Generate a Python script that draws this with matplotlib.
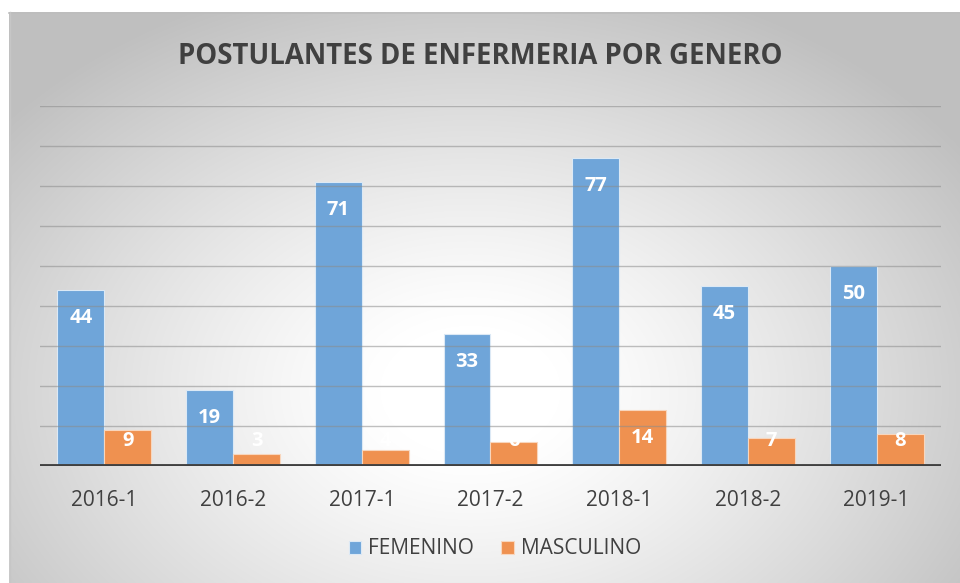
import numpy as np
import matplotlib
matplotlib.use("Agg")
import matplotlib.pyplot as plt

categories = ["2016-1", "2016-2", "2017-1", "2017-2", "2018-1", "2018-2", "2019-1"]
femenino = [44, 19, 71, 33, 77, 45, 50]
masculino = [9, 3, 4, 6, 14, 7, 8]
series_names = ["FEMENINO", "MASCULINO"]
title = "POSTULANTES DE ENFERMERIA POR GENERO"

plt.rcParams['font.family'] = ['Open Sans', 'DejaVu Sans']

W, H = 960, 583
fig = plt.figure(figsize=(W / 100, H / 100), dpi=100)

# background: white outside, chart area with radial gradient
bg = fig.add_axes([0, 0, 1, 1], zorder=-10)
bg.set_xlim(0, W); bg.set_ylim(H, 0); bg.axis("off")
x0, y0 = 9, 12
yy, xx = np.mgrid[y0:H, x0:W]
cx, cy = 470, 390
r = np.sqrt(((xx - cx) / 600.0) ** 2 + ((yy - cy) / 430.0) ** 2)
t = np.clip((r - 0.15) / 0.85, 0, 1)
val = 1.0 - 0.25 * t ** 1.2
img = np.dstack([val, val, val])
bg.imshow(img, extent=[x0, W, H, y0], aspect="auto", interpolation="bilinear")
bg.plot([x0, W], [y0 + 0.5, y0 + 0.5], color="#bdbdbd", lw=1.2)
bg.plot([x0 + 0.5, x0 + 0.5], [y0, H], color="#c6c6c6", lw=1.0)

ax = fig.add_axes([40 / W, 1 - 466 / H, (941 - 40) / W, (466 - 106) / H])
ax.patch.set_alpha(0)
n = len(categories)
x = np.arange(n)
bw = 0.365
blue = "#6fa5d9"
orange = "#ef9150"
ax.bar(x - bw / 2, femenino, bw, color=blue, edgecolor="#dce9f5", linewidth=0.8, zorder=2, label=series_names[0])
ax.bar(x + bw / 2, masculino, bw, color=orange, edgecolor="#f8d6bd", linewidth=0.8, zorder=2, label=series_names[1])

ax.set_xlim(-0.5, n - 0.5)
ax.set_ylim(0, 90)
for g in range(10, 91, 10):
    ax.axhline(g, color="#8c8c8c", lw=1.0, alpha=0.55, zorder=3)
ax.axhline(0, color="#404040", lw=3.5, zorder=4)

for xs, vals in ((x - bw / 2, femenino), (x + bw / 2, masculino)):
    for xi, v in zip(xs, vals):
        yl = max(v - 7, 6.25)
        ax.text(xi, yl, str(v), ha="center", va="center", color="white",
                fontsize=14.5, fontweight="bold", zorder=5)

ax.set_xticks(x)
ax.set_xticklabels(categories, fontsize=15, color="#404040")
ax.tick_params(axis="x", length=0, pad=17)
ax.set_yticks([])
for s in ax.spines.values():
    s.set_visible(False)

fig.text(0.5, 1 - 57 / H, title, ha="center", va="center", fontsize=19.8,
         fontweight="bold", color="#404040")

leg = fig.legend(loc="center", bbox_to_anchor=(495 / W, 1 - 549 / H), ncol=2, frameon=False,
                 fontsize=15, handlelength=0.6, handleheight=0.6, columnspacing=1.3,
                 handletextpad=0.35, labelcolor="#404040")

fig.savefig("out.png", dpi=100)
